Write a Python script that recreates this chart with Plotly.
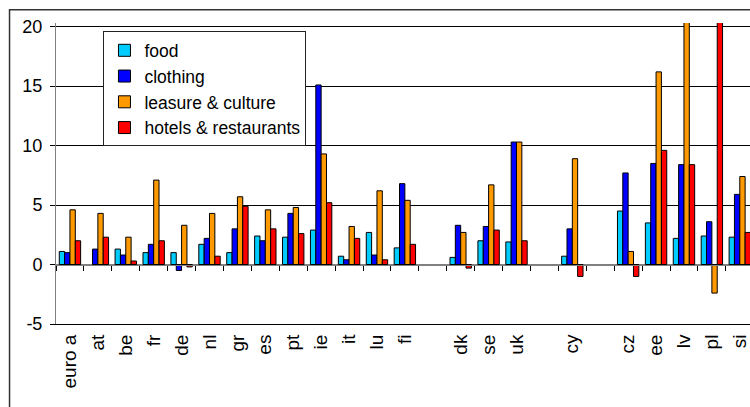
import plotly.graph_objects as go

categories = ["euro a", "at", "be", "fr", "de", "nl", "gr", "es", "pt", "ie", "it", "lu", "fi",
              " ", "dk", "se", "uk", "  ", "cy", "   ", "cz", "ee", "lv", "pl", "si"]

food = [1.1, None, 1.3, 1.0, 1.0, 1.7, 1.0, 2.4, 2.3, 2.9, 0.7, 2.7, 1.4,
        None, 0.6, 2.0, 1.9, None, 0.7, None, 4.5, 3.5, 2.2, 2.4, 2.3]
clothing = [1.0, 1.3, 0.8, 1.7, -0.5, 2.2, 3.0, 2.0, 4.3, 15.1, 0.4, 0.8, 6.8,
            None, 3.3, 3.2, 10.3, None, 3.0, None, 7.7, 8.5, 8.4, 3.6, 5.9]
leisure = [4.6, 4.3, 2.3, 7.1, 3.3, 4.3, 5.7, 4.6, 4.8, 9.3, 3.2, 6.2, 5.4,
           None, 2.7, 6.7, 10.3, None, 8.9, None, 1.1, 16.2, 24.0, -2.4, 7.4]
hotels = [2.0, 2.3, 0.3, 2.0, -0.2, 0.7, 4.9, 3.0, 2.6, 5.2, 2.2, 0.4, 1.7,
          None, -0.3, 2.9, 2.0, None, -1.0, None, -1.0, 9.6, 8.4, 26.0, 2.7]

series = [
    ("food", food, "#00CCFF"),
    ("clothing", clothing, "#0000FF"),
    ("leasure & culture", leisure, "#FF9900"),
    ("hotels & restaurants", hotels, "#FF0000"),
]

FONT = "Arial, Liberation Sans, sans-serif"

fig = go.Figure()
for name, vals, col in series:
    fig.add_trace(go.Bar(
        x=categories, y=vals, name=name,
        marker=dict(color=col, line=dict(color="black", width=1)),
    ))

# invisible helper trace so the zero-line tick axis is drawn
fig.add_trace(go.Bar(x=categories, y=[None] * len(categories), xaxis="x2",
                     showlegend=False, hoverinfo="skip"))

x_range = [-0.5, 24.366]
y_range = [-5, 20.31]

fig.update_layout(
    width=750, height=407,
    margin=dict(l=55.5, r=0, t=23.3, b=82.7),
    paper_bgcolor="white", plot_bgcolor="white",
    barmode="group", bargap=0.234, bargroupgap=0,
    font=dict(family=FONT, size=17, color="black"),
    showlegend=True,
    legend=dict(
        x=(103 - 55.5) / 694.5, y=0.972, xanchor="left", yanchor="top",
        bgcolor="white", bordercolor="#222222", borderwidth=1,
        font=dict(family=FONT, size=17.5, color="black"),
        traceorder="normal",
    ),
    xaxis=dict(
        type="category", categoryorder="array", categoryarray=categories,
        range=x_range, showgrid=False, zeroline=False,
        showline=True, linecolor="black", linewidth=1,
        ticks="", tickangle=-90, ticklabelstandoff=2,
        tickfont=dict(family=FONT, size=19, color="black"),
    ),
    xaxis2=dict(
        type="category", categoryorder="array", categoryarray=categories,
        overlaying="x", anchor="free", position=5 / 25.31, matches="x",
        range=x_range, showgrid=False, zeroline=False,
        showline=True, linecolor="#808080", linewidth=1,
        ticks="outside", tickson="boundaries", ticklen=5, tickcolor="black",
        showticklabels=False,
    ),
    yaxis=dict(
        range=y_range, tickmode="array", tickvals=[-5, 0, 5, 10, 15, 20],
        ticktext=["-5", "0", "5", "10", "15", "20"],
        showgrid=True, gridcolor="black", gridwidth=1,
        zeroline=True, zerolinecolor="#808080", zerolinewidth=1,
        showline=True, linecolor="#808080", linewidth=1,
        ticks="outside", ticklen=5, tickcolor="black",
        ticklabelstandoff=4,
        tickfont=dict(family=FONT, size=18, color="black"),
    ),
    shapes=[dict(type="rect", xref="paper", yref="paper",
                 x0=-(55.5 - 9) / 694.5, x1=1.05, y0=-0.35, y1=1 + (23.3 - 10) / 301,
                 line=dict(color="#333333", width=1.5), fillcolor="rgba(0,0,0,0)",
                 layer="above")],
)

fig.write_html("out.html", config={"displayModeBar": False},
               post_script="document.body.style.margin='0';document.body.style.padding='0';")
